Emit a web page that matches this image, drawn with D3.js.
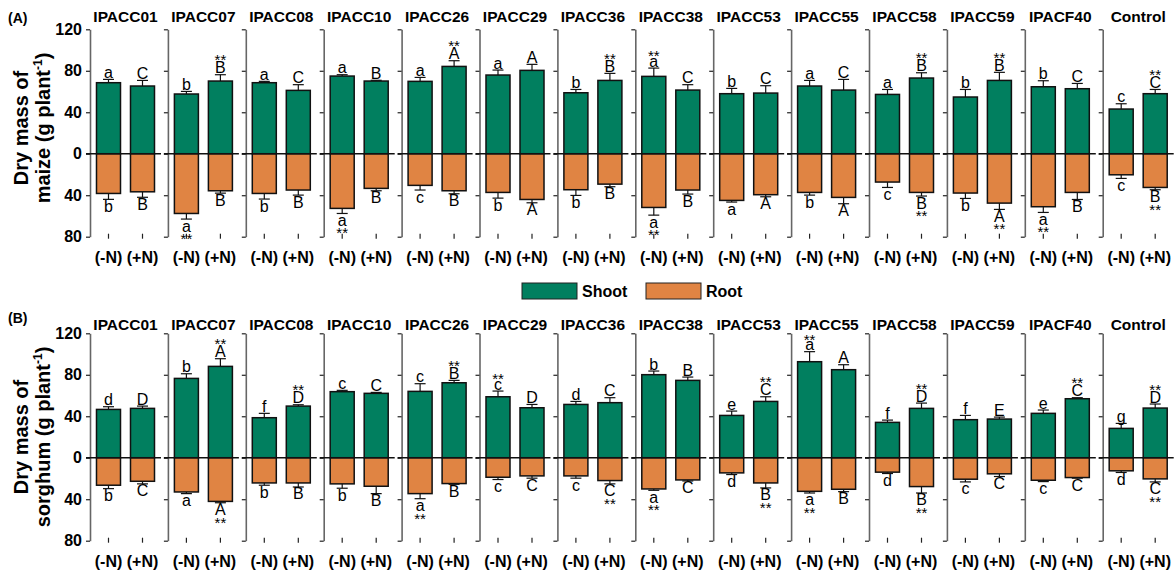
<!DOCTYPE html>
<html>
<head>
<meta charset="utf-8">
<script src="https://cdn.jsdelivr.net/npm/d3@7"></script>
<style>
  body { margin: 0; background: #fff; }
  svg { display: block; font-family: "Liberation Sans", Arial, Helvetica, sans-serif; }
</style>
</head>
<body>
<svg id="chart" width="1174" height="575"></svg>
<script>
// Cultivars (one small panel each) and nitrogen treatments
const cultivars = ["IPACC01", "IPACC07", "IPACC08", "IPACC10", "IPACC26", "IPACC29", "IPACC36",
                   "IPACC38", "IPACC53", "IPACC55", "IPACC58", "IPACC59", "IPACF40", "Control"];
const treatments = ["(-N)", "(+N)"];
const yTicks = [-80, -40, 0, 40, 80, 120];

// Maize: mean dry mass (g plant-1) and error, per cultivar as [-N, +N]
const maizeShoot = [[68.5, 65.3], [57.6, 70.1], [68.5, 61.1], [74.9, 70.1], [69.8, 84.2], [75.9, 80.4], [58.8, 70.7],
                    [74.6, 61.4], [57.9, 58.5], [65.3, 61.4], [57.2, 73.0], [54.7, 70.7], [64.6, 62.7], [43.1, 57.9]];
const maizeShootErr = [[3.2, 5.4], [2.5, 6.1], [1.3, 5.5], [1.3, 0.7], [3.8, 5.5], [4.8, 5.8], [3.2, 6.8],
                       [8.0, 5.2], [5.1, 7.1], [5.4, 10.3], [4.8, 5.1], [7.3, 7.8], [5.8, 5.1], [5.1, 4.1]];
const maizeRoot = [[38.3, 36.7], [57.6, 35.7], [38.3, 35.0], [52.7, 33.4], [30.5, 35.7], [37.3, 44.1], [34.7, 29.3],
                   [51.8, 35.0], [45.0, 39.5], [37.3, 42.1], [27.3, 37.3], [37.9, 47.6], [51.1, 37.3], [20.3, 32.5]];
const maizeRootErr = [[5.7, 5.3], [5.4, 2.3], [5.4, 4.9], [4.9, 2.3], [4.5, 2.9], [5.5, 3.2], [5.5, 2.5],
                      [7.4, 3.9], [1.6, 2.0], [2.6, 6.1], [5.2, 3.5], [5.2, 6.1], [5.5, 6.8], [3.5, 2.2]];
const maizeShootLetters = [["a", "C"], ["b", "B"], ["a", "C"], ["a", "B"], ["a", "A"], ["a", "A"], ["b", "B"],
                           ["a", "C"], ["b", "C"], ["a", "C"], ["a", "B"], ["b", "B"], ["b", "C"], ["c", "C"]];
const maizeShootStars = [[0, 0], [0, 1], [0, 0], [0, 0], [0, 1], [0, 0], [0, 1],
                         [1, 0], [0, 0], [0, 0], [0, 1], [0, 1], [0, 0], [0, 1]];
const maizeRootLetters = [["b", "B"], ["a", "B"], ["b", "B"], ["a", "B"], ["c", "B"], ["b", "A"], ["b", "B"],
                          ["a", "B"], ["a", "A"], ["b", "A"], ["c", "B"], ["b", "A"], ["a", "B"], ["c", "B"]];
const maizeRootStars = [[0, 0], [1, 0], [0, 0], [1, 0], [0, 0], [0, 0], [0, 0],
                        [1, 0], [0, 0], [0, 0], [0, 1], [0, 1], [1, 0], [0, 1]];

// Sorghum: mean dry mass (g plant-1) and error, per cultivar as [-N, +N]
const sorghumShoot = [[46.6, 47.6], [76.5, 88.1], [38.6, 49.8], [63.7, 62.1], [64.0, 72.3], [58.8, 48.2], [51.4, 53.1],
                      [80.1, 74.6], [40.8, 54.3], [92.6, 84.9], [34.1, 47.6], [36.7, 37.3], [42.8, 56.9], [28.3, 47.9]];
const sorghumShootErr = [[2.6, 2.2], [4.5, 7.4], [4.2, 1.3], [1.3, 0.9], [7.4, 2.3], [5.5, 3.2], [2.9, 4.8],
                         [3.5, 3.2], [4.2, 4.5], [9.7, 4.8], [2.2, 5.1], [4.1, 1.9], [3.2, 1.0], [4.8, 3.9]];
const sorghumRoot = [[26.5, 22.7], [33.0, 42.1], [24.3, 24.3], [25.2, 27.5], [34.6, 24.9], [18.8, 17.5], [17.5, 22.0],
                     [30.1, 21.4], [14.6, 24.3], [32.4, 30.4], [13.9, 27.8], [20.7, 15.5], [21.7, 19.1], [12.6, 20.4]];
const sorghumRootErr = [[3.3, 2.5], [1.6, 1.3], [2.2, 3.9], [4.2, 7.1], [4.9, 0.7], [2.2, 2.2], [2.2, 3.2],
                        [1.3, 1.0], [1.6, 4.8], [1.6, 2.3], [1.3, 6.2], [2.6, 2.6], [1.3, 0.6], [1.6, 2.9]];
const sorghumShootLetters = [["d", "D"], ["b", "A"], ["f", "D"], ["c", "C"], ["c", "B"], ["c", "D"], ["d", "C"],
                             ["b", "B"], ["e", "C"], ["a", "A"], ["f", "D"], ["f", "E"], ["e", "C"], ["g", "D"]];
const sorghumShootStars = [[0, 0], [0, 1], [0, 1], [0, 0], [0, 1], [1, 0], [0, 0],
                           [0, 0], [0, 1], [1, 0], [0, 1], [0, 0], [0, 1], [0, 1]];
const sorghumRootLetters = [["b", "C"], ["a", "A"], ["b", "B"], ["b", "B"], ["a", "B"], ["c", "C"], ["c", "C"],
                            ["a", "C"], ["d", "B"], ["a", "B"], ["d", "B"], ["c", "C"], ["c", "C"], ["d", "C"]];
const sorghumRootStars = [[0, 0], [0, 1], [0, 0], [0, 0], [1, 0], [0, 0], [0, 1],
                          [1, 0], [0, 1], [1, 0], [0, 1], [0, 0], [0, 0], [0, 1]];

const SHOOT = "#017f5f";
const ROOT = "#e08443";
const FONT = '"Liberation Sans", Arial, Helvetica, sans-serif';

const svg = d3.select("#chart");

const panelScale = d3.scaleBand().domain(cultivars).range([90, 1173.7]).paddingInner(0.0886).paddingOuter(0);
const x = d3.scaleBand().domain(treatments).range([0, panelScale.bandwidth()])
  .paddingInner(0.294).paddingOuter(0.191);

const rows = [
  { tag: "(A)", crop: "maize", top: 29.3, bottom: 236.7, tagY: 23, titleY: 22, ylabY: 128,
    shoot: maizeShoot, shootErr: maizeShootErr, root: maizeRoot, rootErr: maizeRootErr,
    sL: maizeShootLetters, sS: maizeShootStars, rL: maizeRootLetters, rS: maizeRootStars },
  { tag: "(B)", crop: "sorghum", top: 333.3, bottom: 540.7, tagY: 323, titleY: 330, ylabY: 437,
    shoot: sorghumShoot, shootErr: sorghumShootErr, root: sorghumRoot, rootErr: sorghumRootErr,
    sL: sorghumShootLetters, sS: sorghumShootStars, rL: sorghumRootLetters, rS: sorghumRootStars }
];

const isUpper = s => s === s.toUpperCase();

rows.forEach(row => {
  const y = d3.scaleLinear().domain([-80, 120]).range([row.bottom, row.top]);

  // panel tag
  svg.append("text").attr("x", 8).attr("y", row.tagY)
    .attr("font-size", 14).attr("font-weight", "bold").text(row.tag);

  // y axis title (two lines, rotated)
  const yl = svg.append("g").attr("transform", `translate(0,${row.ylabY}) rotate(-90)`)
    .attr("font-size", 20).attr("font-weight", "bold").attr("text-anchor", "middle");
  yl.append("text").attr("x", 0).attr("y", 27.5).text("Dry mass of");
  const l2 = yl.append("text").attr("x", 0).attr("y", 50);
  l2.append("tspan").text(row.crop + " (g plant");
  l2.append("tspan").attr("font-size", 12).attr("dy", -8).text("-1");
  l2.append("tspan").attr("dy", 8).text(")");

  cultivars.forEach((cv, i) => {
    const g = svg.append("g").attr("transform", `translate(${panelScale(cv)},0)`);
    const w = panelScale.bandwidth();

    // title
    g.append("text").attr("x", w / 2).attr("y", row.titleY).attr("text-anchor", "middle")
      .attr("font-size", 15.5).attr("font-weight", "bold").text(cv);

    // y axis
    const ax = g.append("g").call(
      d3.axisLeft(y).tickValues(yTicks).tickSize(4).tickSizeOuter(0).tickPadding(4)
        .tickFormat(i === 0 ? d => Math.abs(d) : () => "")
    );
    ax.select(".domain").attr("stroke", "#666").attr("stroke-width", 1.6);
    ax.selectAll(".tick line").attr("stroke", "#222").attr("stroke-width", 1.2);
    ax.selectAll(".tick text").attr("font-size", 16).attr("font-weight", "bold")
      .attr("font-family", FONT).attr("fill", "#000");

    // bottom ticks and treatment labels
    const bx = g.append("g").attr("transform", `translate(0,${row.bottom - 3})`)
      .call(d3.axisBottom(x).tickSize(5).tickSizeOuter(0));
    bx.select(".domain").remove();
    bx.selectAll(".tick line").attr("stroke", "#222").attr("stroke-width", 1.2);
    bx.selectAll(".tick text").attr("y", 29).attr("dy", 0).attr("font-size", 16)
      .attr("font-weight", "bold").attr("font-family", FONT).attr("fill", "#000");

    treatments.forEach((t, j) => {
      const cx = x(t) + x.bandwidth() / 2;
      const sv = row.shoot[i][j], se = row.shootErr[i][j];
      const rv = row.root[i][j], re = row.rootErr[i][j];

      // error bars (drawn first, bars sit on top of their stems)
      const eb = g.append("g").attr("stroke", "#111").attr("stroke-width", 1.2);
      eb.append("line").attr("x1", cx).attr("x2", cx).attr("y1", y(sv)).attr("y2", y(sv + se));
      eb.append("line").attr("x1", cx - 5.5).attr("x2", cx + 5.5).attr("y1", y(sv + se)).attr("y2", y(sv + se));
      eb.append("line").attr("x1", cx).attr("x2", cx).attr("y1", y(-rv)).attr("y2", y(-(rv + re)));
      eb.append("line").attr("x1", cx - 5.5).attr("x2", cx + 5.5).attr("y1", y(-(rv + re))).attr("y2", y(-(rv + re)));

      // shoot bar (up) and root bar (down)
      g.append("rect").attr("x", x(t)).attr("width", x.bandwidth())
        .attr("y", y(sv)).attr("height", y(0) - y(sv))
        .attr("fill", SHOOT).attr("stroke", "#111").attr("stroke-width", 1.5);
      g.append("rect").attr("x", x(t)).attr("width", x.bandwidth())
        .attr("y", y(0)).attr("height", y(-rv) - y(0))
        .attr("fill", ROOT).attr("stroke", "#111").attr("stroke-width", 1.5);

      // significance letters
      const sl = row.sL[i][j];
      const sBase = y(sv + se) - 1.5;
      g.append("text").attr("x", cx).attr("y", sBase).attr("text-anchor", "middle")
        .attr("font-size", 16).text(sl);
      if (row.sS[i][j]) {
        g.append("text").attr("x", cx).attr("y", sBase - (isUpper(sl) ? 8 : 5.5))
          .attr("text-anchor", "middle").attr("font-size", 15).text("**");
      }
      const rl = row.rL[i][j];
      const rBase = y(-(rv + re)) + 12.5;
      g.append("text").attr("x", cx).attr("y", rBase).attr("text-anchor", "middle")
        .attr("font-size", 16).text(rl);
      if (row.rS[i][j]) {
        g.append("text").attr("x", cx).attr("y", rBase + 12.5)
          .attr("text-anchor", "middle").attr("font-size", 15).text("**");
      }
    });

    // zero line
    g.append("line").attr("x1", -4).attr("x2", w).attr("y1", y(0)).attr("y2", y(0))
      .attr("stroke", "#111").attr("stroke-width", 1.4);
  });
});

// legend
const legend = svg.append("g").attr("font-size", 16).attr("font-weight", "bold");
[["Shoot", SHOOT, 522], ["Root", ROOT, 646]].forEach(([name, color, lx]) => {
  legend.append("rect").attr("x", lx).attr("y", 283).attr("width", 55).attr("height", 16)
    .attr("fill", color).attr("stroke", "#222").attr("stroke-width", 1);
  legend.append("text").attr("x", lx + 60).attr("y", 297).text(name);
});
</script>
</body>
</html>
